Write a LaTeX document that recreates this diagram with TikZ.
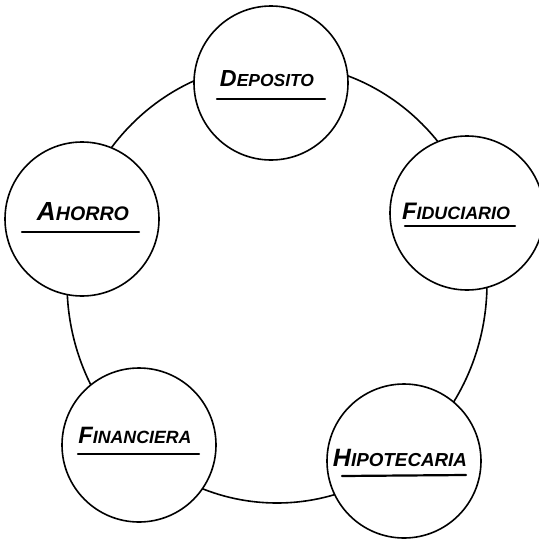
\documentclass[tikz,border=0pt]{standalone}
\usepackage{fontspec}
\newfontfamily\handfont{Liberation Sans}
\usetikzlibrary{shapes.geometric,calc}
\newcommand\hw[3]{\resizebox{#1pt}{!}{{\fontsize{16}{16}\selectfont #2}{\fontsize{12}{12}\selectfont #3}}}
\tikzset{
  ring/.style={draw, ellipse, line width=1.6pt, minimum width=420pt, minimum height=440pt, inner sep=0pt},
  bubble/.style={draw, circle, fill=white, line width=1.6pt, minimum size=154pt, inner sep=0pt},
  lbl/.style={anchor=base, inner sep=0pt, font=\handfont\bfseries\itshape},
  uline/.style={line width=2.2pt, line cap=round}
}
\begin{document}
\begin{tikzpicture}[x=1pt,y=-1pt]
\useasboundingbox (0,0) rectangle (539,542);
\node[ring] (ring) at (277,283) {};
\node[bubble] (dep) at (271,83) {};
\node[bubble] (fid) at (467,213) {};
\node[bubble] (aho) at (82,219) {};
\node[bubble] (fin) at (139,445) {};
\node[bubble] (hip) at (404,461) {};
\node[lbl] (tdep) at (267,86) {\hw{94}{D}{EPOSITO}};
\node[lbl] (tfid) at (456,219) {\hw{108}{F}{IDUCIARIO}};
\node[lbl] (taho) at (83,220) {\hw{92}{A}{HORRO}};
\node[lbl] (tfin) at (135,443) {\hw{113}{F}{INANCIERA}};
\node[lbl] (thip) at (400,466) {\hw{134}{H}{IPOTECARIA}};
\draw[uline] ($(dep)+(-54,16)$) coordinate (u1a) -- ($(dep)+(54,16)$) coordinate (u1b);
\draw[uline] ($(fid)+(-62,13)$) coordinate (u2a) -- ($(fid)+(48,13)$) coordinate (u2b);
\draw[uline] ($(aho)+(-60,13)$) coordinate (u3a) -- ($(aho)+(57,13)$) coordinate (u3b);
\draw[uline] ($(fin)+(-61,9)$) coordinate (u4a) -- ($(fin)+(60,9)$) coordinate (u4b);
\draw[uline] ($(hip)+(-62,15)$) coordinate (u5a) -- ($(hip)+(62,14)$) coordinate (u5b);
\end{tikzpicture}
\end{document}
